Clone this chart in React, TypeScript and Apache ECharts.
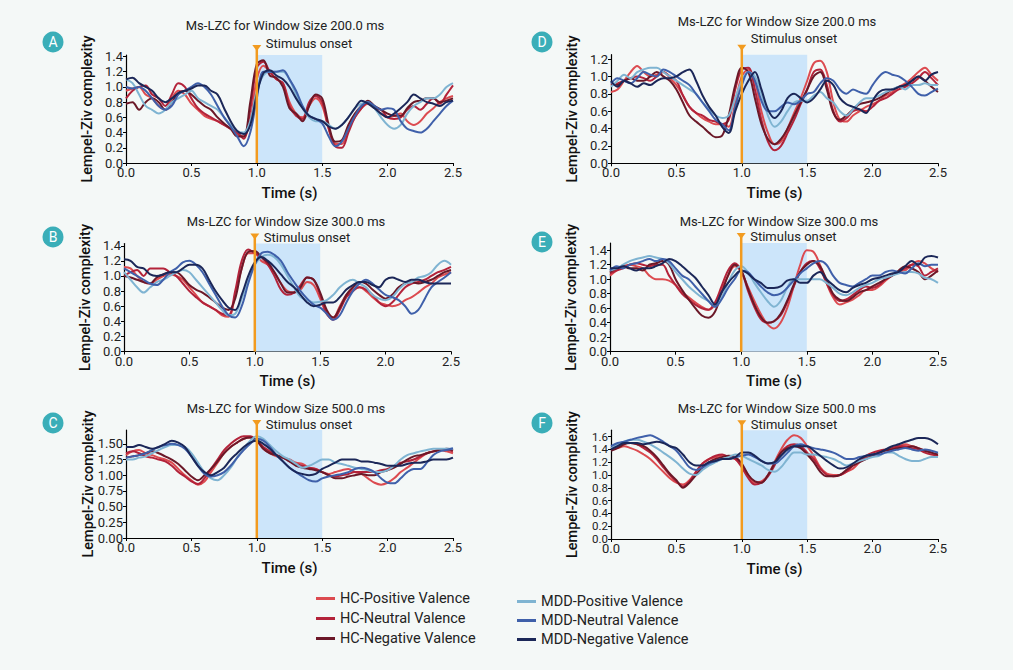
import React, { useEffect, useRef } from "react";
import * as echarts from "echarts";

// time axis, 50 ms steps from 0 to 2.5 s
const TIME = Array.from({ length: 51 }, (_, i) => Math.round(i * 5) / 100);
const X_TICKS = [0, 0.5, 1.0, 1.5, 2.0, 2.5];
const Y_TICKS_14 = [0, 0.2, 0.4, 0.6, 0.8, 1.0, 1.2, 1.4];
const Y_TICKS_12 = [0, 0.2, 0.4, 0.6, 0.8, 1.0, 1.2];
const Y_TICKS_16 = [0, 0.2, 0.4, 0.6, 0.8, 1.0, 1.2, 1.4, 1.6];
const Y_TICKS_150 = [0, 0.25, 0.5, 0.75, 1.0, 1.25, 1.5];

const STIMULUS_ONSET = 1.0;
const WINDOW_END = 1.5;

const SERIES_NAMES = [
  "HC-Positive Valence",
  "HC-Neutral Valence",
  "HC-Negative Valence",
  "MDD-Positive Valence",
  "MDD-Neutral Valence",
  "MDD-Negative Valence",
];
const COLORS = ["#dc4b50", "#b3233a", "#6b1828", "#7fb4d2", "#3f60aa", "#1b2758"];

const TITLES = [
  "Ms-LZC for Window Size 200.0 ms",
  "Ms-LZC for Window Size 300.0 ms",
  "Ms-LZC for Window Size 500.0 ms",
  "Ms-LZC for Window Size 200.0 ms",
  "Ms-LZC for Window Size 300.0 ms",
  "Ms-LZC for Window Size 500.0 ms",
];
const LETTERS = ["A", "B", "C", "D", "E", "F"];

// ---- panel A (200 ms, left)
const A_HC_POS = [
  0.95, 0.98, 1.0, 0.9, 0.85, 0.75, 0.7, 0.85, 0.95, 0.9,
  0.78, 0.7, 0.62, 0.58, 0.55, 0.5, 0.45, 0.38, 0.35, 0.55,
  1.1, 1.28, 1.2, 1.1, 1.05, 0.8, 0.65, 0.6, 0.75, 0.85,
  0.75, 0.45, 0.25, 0.25, 0.45, 0.6, 0.72, 0.78, 0.72, 0.65,
  0.6, 0.62, 0.65, 0.55, 0.5, 0.55, 0.65, 0.72, 0.8, 0.85,
  0.88,
];
const A_HC_NEU = [
  0.85, 0.95, 1.0, 1.02, 0.9, 0.85, 0.75, 0.9, 1.05, 1.0,
  0.85, 0.72, 0.65, 0.6, 0.55, 0.5, 0.45, 0.4, 0.32, 0.7,
  1.25, 1.33, 1.2, 1.1, 1.05, 0.75, 0.62, 0.58, 0.8, 0.88,
  0.8, 0.45, 0.22, 0.2, 0.4, 0.6, 0.72, 0.8, 0.72, 0.7,
  0.6, 0.58, 0.6, 0.7, 0.75, 0.7, 0.78, 0.85, 0.78, 0.9,
  1.02,
];
const A_HC_NEG = [
  0.78, 0.8, 0.7, 0.8, 0.85, 0.8, 0.7, 0.8, 0.92, 0.95,
  0.9, 0.82, 0.75, 0.7, 0.6, 0.52, 0.45, 0.35, 0.35, 0.8,
  1.3, 1.35, 1.15, 1.12, 1.0, 0.72, 0.65, 0.55, 0.75, 0.9,
  0.85, 0.5, 0.28, 0.3, 0.5, 0.65, 0.75, 0.82, 0.75, 0.7,
  0.65, 0.62, 0.62, 0.72, 0.8, 0.82, 0.85, 0.85, 0.8, 0.82,
  0.85,
];
const A_MDD_POS = [
  1.1, 1.05, 0.9, 0.75, 0.7, 0.65, 0.7, 0.8, 0.85, 0.9,
  0.95, 0.85, 0.8, 0.75, 0.7, 0.6, 0.5, 0.42, 0.4, 0.55,
  0.95, 1.15, 1.2, 1.2, 1.2, 1.1, 0.9, 0.72, 0.6, 0.55,
  0.55, 0.5, 0.45, 0.5, 0.6, 0.72, 0.78, 0.8, 0.72, 0.6,
  0.5, 0.45, 0.5, 0.65, 0.75, 0.8, 0.85, 0.85, 0.9, 1.0,
  1.05,
];
const A_MDD_NEU = [
  1.0, 0.98, 1.0, 0.95, 0.85, 0.75, 0.7, 0.75, 0.9, 0.95,
  1.0, 1.05, 1.0, 0.9, 0.75, 0.6, 0.48, 0.35, 0.22, 0.4,
  0.85, 1.2, 1.2, 1.2, 1.22, 1.1, 0.95, 0.75, 0.62, 0.58,
  0.52, 0.35, 0.22, 0.28, 0.45, 0.62, 0.75, 0.8, 0.75, 0.7,
  0.72, 0.7, 0.55, 0.45, 0.42, 0.4, 0.45, 0.55, 0.65, 0.75,
  0.82,
];
const A_MDD_NEG = [
  1.1, 1.12, 1.05, 1.0, 0.95, 0.85, 0.8, 0.85, 0.92, 0.95,
  0.98, 1.02, 1.02, 0.95, 0.9, 0.72, 0.55, 0.42, 0.38, 0.5,
  0.9, 1.18, 1.22, 1.15, 1.1, 1.0, 0.85, 0.72, 0.62, 0.58,
  0.55, 0.48, 0.45, 0.5, 0.6, 0.72, 0.82, 0.78, 0.72, 0.65,
  0.6, 0.65, 0.72, 0.8, 0.9, 0.85, 0.8, 0.78, 0.75, 0.8,
  0.82,
];

// ---- panel B (300 ms, left)
const B_HC_POS = [
  1.12, 1.1, 1.0, 0.92, 0.9, 0.95, 1.0, 1.02, 1.0, 0.95,
  0.85, 0.75, 0.65, 0.6, 0.55, 0.48, 0.46, 0.75, 1.1, 1.3,
  1.3, 1.2, 1.15, 1.05, 0.9, 0.8, 0.78, 0.82, 0.92, 0.88,
  0.7, 0.5, 0.45, 0.6, 0.75, 0.82, 0.85, 0.8, 0.72, 0.65,
  0.62, 0.6, 0.62, 0.68, 0.72, 0.78, 0.85, 0.9, 0.98, 1.02,
  1.05,
];
const B_HC_NEU = [
  1.0, 1.05, 1.08, 1.0, 1.1, 1.1, 1.1, 1.05, 1.0, 0.9,
  0.8, 0.72, 0.65, 0.6, 0.55, 0.5, 0.48, 0.8, 1.2, 1.35,
  1.3, 1.25, 1.15, 1.0, 0.82, 0.75, 0.78, 0.88, 0.98, 0.95,
  0.75, 0.5, 0.42, 0.55, 0.72, 0.8, 0.85, 0.82, 0.75, 0.65,
  0.6, 0.65, 0.75, 0.85, 0.9, 0.92, 0.95, 1.0, 1.05, 1.08,
  1.12,
];
const B_HC_NEG = [
  1.0, 0.98, 0.95, 0.92, 0.9, 0.98, 1.02, 1.05, 1.05, 0.98,
  0.88, 0.82, 0.78, 0.72, 0.65, 0.58, 0.55, 0.7, 1.1, 1.32,
  1.33, 1.25, 1.18, 1.05, 0.9, 0.78, 0.78, 0.85, 0.98, 0.95,
  0.78, 0.55, 0.45, 0.58, 0.75, 0.85, 0.92, 0.9, 0.82, 0.75,
  0.7, 0.75, 0.85, 0.9, 0.92, 0.9, 0.92, 0.95, 1.0, 1.05,
  1.08,
];
const B_MDD_POS = [
  1.05, 0.95, 0.85, 0.78, 0.85, 0.92, 0.95, 1.0, 1.05, 1.08,
  1.05, 0.95, 0.85, 0.75, 0.65, 0.55, 0.48, 0.5, 0.7, 0.95,
  1.15, 1.25, 1.28, 1.25, 1.15, 1.0, 0.85, 0.72, 0.68, 0.65,
  0.66, 0.68, 0.75, 0.85, 0.92, 0.95, 0.9, 0.85, 0.75, 0.7,
  0.68, 0.72, 0.82, 0.9, 0.92, 0.98, 1.0, 1.05, 1.15, 1.2,
  1.15,
];
const B_MDD_NEU = [
  1.1, 1.05, 1.0, 0.95, 0.9, 0.88, 0.95, 1.05, 1.1, 1.18,
  1.2, 1.15, 1.05, 0.9, 0.75, 0.6, 0.48, 0.45, 0.6, 0.9,
  1.15, 1.3, 1.32, 1.28, 1.2, 1.05, 0.92, 0.8, 0.7, 0.62,
  0.58, 0.5, 0.42, 0.48, 0.65, 0.8, 0.9, 0.95, 0.9, 0.82,
  0.75, 0.72, 0.68, 0.6, 0.5, 0.55, 0.7, 0.85, 0.92, 0.98,
  1.05,
];
const B_MDD_NEG = [
  1.22, 1.2, 1.12, 1.1, 1.02, 1.0, 1.02, 1.05, 1.05, 1.1,
  1.15, 1.15, 1.1, 0.95, 0.8, 0.68, 0.58, 0.55, 0.75, 1.0,
  1.18, 1.25, 1.2, 1.12, 1.02, 0.92, 0.85, 0.75, 0.65, 0.6,
  0.62, 0.65, 0.65, 0.72, 0.82, 0.88, 0.92, 0.92, 0.88, 0.85,
  0.95, 0.98, 0.95, 0.92, 0.95, 0.95, 0.92, 0.9, 0.9, 0.9,
  0.9,
];

// ---- panel C (500 ms, left)
const C_HC_POS = [
  1.32, 1.38, 1.4, 1.35, 1.32, 1.28, 1.25, 1.2, 1.1, 1.0,
  0.92, 0.85, 0.9, 1.05, 1.2, 1.35, 1.45, 1.52, 1.58, 1.6,
  1.55, 1.42, 1.35, 1.3, 1.28, 1.25, 1.2, 1.18, 1.12, 1.1,
  1.05, 1.02, 1.05, 1.08, 1.1, 1.05, 1.02, 0.95, 0.88, 0.85,
  0.88, 0.95, 1.05, 1.12, 1.2, 1.28, 1.35, 1.38, 1.4, 1.38,
  1.35,
];
const C_HC_NEU = [
  1.35, 1.38, 1.35, 1.3, 1.28, 1.25, 1.22, 1.15, 1.05, 0.98,
  0.9, 0.86, 0.95, 1.1, 1.25, 1.4, 1.5, 1.58, 1.62, 1.62,
  1.55, 1.45, 1.38, 1.32, 1.28, 1.22, 1.18, 1.15, 1.12, 1.1,
  1.05, 1.0, 0.98, 1.0, 1.02, 1.05, 1.05, 1.05, 1.05, 1.08,
  1.1, 1.15, 1.2, 1.22, 1.25, 1.3, 1.35, 1.38, 1.4, 1.4,
  1.38,
];
const C_HC_NEG = [
  1.28, 1.3, 1.32, 1.35, 1.38, 1.35, 1.3, 1.25, 1.18, 1.08,
  0.98, 0.92, 1.0, 1.1, 1.22, 1.35, 1.45, 1.52, 1.58, 1.6,
  1.55, 1.42, 1.35, 1.32, 1.28, 1.22, 1.15, 1.12, 1.1, 1.08,
  1.05, 1.0, 0.95, 0.95, 0.98, 1.0, 1.02, 1.0, 1.0, 1.05,
  1.08, 1.12, 1.18, 1.25, 1.3, 1.32, 1.35, 1.38, 1.4, 1.42,
  1.4,
];
const C_MDD_POS = [
  1.25, 1.25, 1.28, 1.3, 1.35, 1.4, 1.45, 1.48, 1.48, 1.45,
  1.35, 1.2, 1.05, 0.95, 0.92, 1.0, 1.12, 1.28, 1.42, 1.55,
  1.62, 1.58, 1.48, 1.38, 1.3, 1.25, 1.18, 1.12, 1.15, 1.2,
  1.25, 1.25, 1.2, 1.18, 1.15, 1.12, 1.1, 1.08, 1.05, 1.05,
  1.08, 1.15, 1.25, 1.32, 1.35, 1.38, 1.4, 1.42, 1.42, 1.42,
  1.42,
];
const C_MDD_NEU = [
  1.28, 1.3, 1.32, 1.35, 1.4, 1.45, 1.48, 1.5, 1.48, 1.42,
  1.3, 1.15, 1.02, 0.98, 1.0, 1.05, 1.15, 1.28, 1.4, 1.5,
  1.58, 1.55, 1.45, 1.32, 1.22, 1.12, 1.05, 0.98, 0.92, 0.9,
  0.95, 0.98, 1.0, 1.02, 1.05, 1.1, 1.12, 1.1, 1.05, 0.95,
  0.88, 0.87, 0.95, 1.05, 1.1, 1.1, 1.2, 1.32, 1.38, 1.4,
  1.43,
];
const C_MDD_NEG = [
  1.45, 1.45, 1.48, 1.45, 1.42, 1.45, 1.5, 1.55, 1.52, 1.45,
  1.3, 1.15, 1.05, 1.0, 1.05, 1.12, 1.25, 1.35, 1.45, 1.52,
  1.55, 1.5, 1.42, 1.32, 1.22, 1.12, 1.05, 1.02, 1.0, 1.02,
  1.1, 1.15, 1.2, 1.25, 1.25, 1.25, 1.22, 1.22, 1.2, 1.18,
  1.15, 1.15, 1.15, 1.18, 1.2, 1.2, 1.22, 1.25, 1.25, 1.25,
  1.28,
];

// ---- panel D (200 ms, right)
const D_HC_POS = [
  0.82, 0.85, 0.95, 1.05, 1.12, 1.05, 1.0, 1.02, 1.05, 0.98,
  0.9, 0.78, 0.65, 0.58, 0.52, 0.48, 0.45, 0.45, 0.42, 0.7,
  1.0, 1.08, 0.95, 0.6, 0.35, 0.22, 0.25, 0.4, 0.58, 0.75,
  0.95, 1.15, 1.18, 1.05, 0.7, 0.5, 0.48, 0.55, 0.6, 0.65,
  0.68, 0.72, 0.78, 0.82, 0.88, 0.92, 0.98, 1.05, 1.1, 1.02,
  0.95,
];
const D_HC_NEU = [
  0.9, 0.92, 0.95, 0.98, 1.0, 0.98, 0.95, 1.0, 1.05, 1.0,
  0.95, 0.78, 0.65, 0.58, 0.55, 0.5, 0.48, 0.45, 0.5, 0.85,
  1.08, 1.1, 0.85, 0.5, 0.25, 0.15, 0.2, 0.35, 0.5, 0.68,
  0.85, 1.05, 1.08, 0.9, 0.6, 0.48, 0.52, 0.6, 0.62, 0.6,
  0.65, 0.72, 0.75, 0.8, 0.85, 0.88, 0.92, 0.98, 1.05, 0.98,
  0.9,
];
const D_HC_NEG = [
  0.92, 0.9, 0.95, 0.98, 0.95, 0.95, 1.0, 1.05, 1.0, 0.95,
  0.85, 0.7, 0.55, 0.48, 0.42, 0.35, 0.3, 0.32, 0.55, 0.9,
  1.1, 1.05, 0.75, 0.45, 0.28, 0.22, 0.28, 0.4, 0.55, 0.7,
  0.85, 1.0, 1.05, 0.85, 0.58, 0.5, 0.55, 0.62, 0.68, 0.7,
  0.72, 0.75, 0.8, 0.85, 0.88, 0.9, 0.95, 1.0, 0.95, 0.88,
  0.82,
];
const D_MDD_POS = [
  0.88, 0.95, 1.02, 0.98, 1.05, 1.08, 1.1, 1.1, 1.05, 1.0,
  0.95, 0.9, 0.85, 0.8, 0.7, 0.62, 0.55, 0.52, 0.55, 0.75,
  0.95, 1.05, 1.0, 0.8, 0.55, 0.42, 0.48, 0.6, 0.7, 0.72,
  0.72, 0.78, 0.82, 0.75, 0.7, 0.6, 0.55, 0.62, 0.7, 0.75,
  0.75, 0.78, 0.82, 0.85, 0.88, 0.85, 0.9, 0.9, 0.92, 0.9,
  0.9,
];
const D_MDD_NEU = [
  0.92, 0.98, 0.95, 0.92, 0.98, 1.05, 1.02, 1.0, 1.08, 1.05,
  1.0, 0.95, 0.9, 0.8, 0.7, 0.6, 0.5, 0.45, 0.38, 0.65,
  0.9, 1.05, 0.95, 0.72, 0.6, 0.6, 0.65, 0.7, 0.68, 0.72,
  0.8, 0.82, 0.92, 0.98, 0.95, 0.85, 0.8, 0.85, 0.82, 0.8,
  0.9, 1.0, 1.05, 1.02, 1.0, 0.95, 0.88, 0.8, 0.78, 0.82,
  0.86,
];
const D_MDD_NEG = [
  0.95, 0.88, 0.95, 0.92, 0.88, 0.92, 0.9, 0.95, 0.98, 0.98,
  1.0, 1.05, 1.08, 0.95, 0.78, 0.65, 0.55, 0.42, 0.35, 0.6,
  0.8, 0.95, 1.05, 0.85, 0.62, 0.52, 0.6, 0.75, 0.8, 0.75,
  0.7, 0.75, 0.85, 0.95, 0.9, 0.75, 0.68, 0.65, 0.62, 0.58,
  0.72, 0.82, 0.85, 0.85, 0.88, 0.9, 0.95, 1.0, 0.95, 1.02,
  1.05,
];

// ---- panel E (300 ms, right)
const E_HC_POS = [
  1.05, 1.12, 1.18, 1.2, 1.18, 1.15, 1.05, 1.0, 1.0, 0.98,
  0.92, 0.82, 0.75, 0.68, 0.62, 0.58, 0.65, 0.85, 1.05, 1.18,
  1.1, 0.9, 0.7, 0.52, 0.38, 0.32, 0.4, 0.6, 0.9, 1.2,
  1.4, 1.38, 1.2, 0.95, 0.75, 0.65, 0.68, 0.72, 0.78, 0.85,
  0.85, 0.9, 0.98, 1.05, 1.1, 1.12, 1.2, 1.25, 1.22, 1.15,
  1.1,
];
const E_HC_NEU = [
  1.08, 1.12, 1.15, 1.2, 1.22, 1.2, 1.18, 1.2, 1.2, 1.05,
  0.92, 0.8, 0.72, 0.65, 0.6, 0.58, 0.68, 0.9, 1.12, 1.22,
  1.12, 0.85, 0.62, 0.45, 0.4, 0.42, 0.5, 0.68, 0.9, 1.1,
  1.22, 1.25, 1.15, 0.95, 0.78, 0.7, 0.72, 0.78, 0.85, 0.9,
  0.88, 0.92, 1.0, 1.05, 1.1, 1.15, 1.2, 1.18, 1.05, 1.1,
  1.15,
];
const E_HC_NEG = [
  1.1, 1.15, 1.18, 1.15, 1.15, 1.12, 1.2, 1.22, 1.25, 1.2,
  1.0, 0.85, 0.72, 0.6, 0.5, 0.47, 0.55, 0.8, 1.05, 1.2,
  1.12, 0.88, 0.65, 0.48, 0.4, 0.42, 0.52, 0.7, 0.92, 1.1,
  1.2, 1.25, 1.18, 1.0, 0.8, 0.72, 0.7, 0.75, 0.82, 0.85,
  0.9, 0.95, 1.0, 1.05, 1.12, 1.18, 1.15, 1.1, 1.0, 1.05,
  1.12,
];
const E_MDD_POS = [
  1.12, 1.15, 1.2, 1.25, 1.28, 1.3, 1.32, 1.3, 1.28, 1.22,
  1.1, 1.0, 0.9, 0.82, 0.75, 0.7, 0.62, 0.75, 0.95, 1.12,
  1.18, 1.1, 0.95, 0.82, 0.7, 0.62, 0.7, 0.88, 1.0, 1.0,
  1.0, 1.0, 1.0, 0.95, 0.88, 0.8, 0.78, 0.82, 0.88, 0.92,
  0.95, 1.0, 1.02, 1.05, 1.08, 1.1, 1.1, 1.08, 1.02, 1.0,
  0.95,
];
const E_MDD_NEU = [
  1.12, 1.18, 1.15, 1.2, 1.22, 1.25, 1.28, 1.25, 1.28, 1.25,
  1.15, 1.05, 1.0, 0.9, 0.8, 0.7, 0.62, 0.72, 0.88, 1.0,
  1.12, 1.1, 1.0, 0.9, 0.82, 0.78, 0.8, 0.88, 0.98, 1.08,
  1.15, 1.22, 1.25, 1.2, 1.05, 0.95, 0.92, 0.9, 0.95, 1.0,
  1.05, 1.05, 1.1, 1.12, 1.1, 1.08, 1.15, 1.22, 1.18, 1.2,
  1.2,
];
const E_MDD_NEG = [
  1.15, 1.15, 1.18, 1.15, 1.12, 1.15, 1.15, 1.18, 1.22, 1.28,
  1.25, 1.18, 1.1, 1.02, 0.9, 0.78, 0.65, 0.82, 0.95, 1.05,
  1.12, 1.08, 1.0, 0.95, 0.88, 0.88, 0.9, 0.98, 1.0, 0.95,
  0.95, 1.05, 1.1, 1.0, 0.92, 0.85, 0.82, 0.88, 0.92, 0.95,
  1.0, 1.02, 1.05, 1.08, 1.1, 1.18, 1.25, 1.2, 1.3, 1.32,
  1.3,
];

// ---- panel F (500 ms, right)
const F_HC_POS = [
  1.4, 1.42, 1.45, 1.42, 1.38, 1.32, 1.25, 1.15, 1.05, 0.95,
  0.88, 0.85, 0.92, 1.05, 1.18, 1.25, 1.28, 1.3, 1.28, 1.25,
  1.15, 1.0, 0.88, 0.9, 1.0, 1.2, 1.4, 1.55, 1.62, 1.58,
  1.45, 1.3, 1.12, 1.02, 1.0, 1.0, 1.05, 1.1, 1.2, 1.28,
  1.32, 1.35, 1.38, 1.42, 1.45, 1.48, 1.45, 1.42, 1.38, 1.35,
  1.3,
];
const F_HC_NEU = [
  1.42, 1.45, 1.5, 1.5, 1.48, 1.42, 1.35, 1.25, 1.12, 1.0,
  0.9, 0.82, 0.9, 1.05, 1.18, 1.25, 1.3, 1.32, 1.28, 1.25,
  1.12, 0.95, 0.85, 0.88, 0.98, 1.15, 1.35, 1.45, 1.48, 1.45,
  1.35, 1.25, 1.1, 1.0, 0.98, 1.0, 1.05, 1.15, 1.22, 1.3,
  1.35, 1.38, 1.4, 1.42, 1.45, 1.45, 1.42, 1.4, 1.35, 1.32,
  1.3,
];
const F_HC_NEG = [
  1.38, 1.42, 1.48, 1.5, 1.48, 1.45, 1.38, 1.28, 1.15, 1.02,
  0.92, 0.8, 0.88, 1.0, 1.12, 1.2, 1.25, 1.28, 1.3, 1.28,
  1.18, 1.0, 0.9, 0.88, 1.0, 1.18, 1.35, 1.42, 1.45, 1.42,
  1.32, 1.2, 1.05, 0.98, 0.98, 1.0, 1.08, 1.15, 1.2, 1.25,
  1.3, 1.35, 1.38, 1.4, 1.42, 1.42, 1.45, 1.42, 1.38, 1.35,
  1.32,
];
const F_MDD_POS = [
  1.42, 1.48, 1.52, 1.55, 1.55, 1.52, 1.48, 1.42, 1.35, 1.28,
  1.2, 1.1, 1.02, 1.0, 1.08, 1.15, 1.2, 1.25, 1.28, 1.32,
  1.3, 1.25, 1.2, 1.15, 1.08, 1.05, 1.12, 1.25, 1.35, 1.35,
  1.32, 1.32, 1.3, 1.28, 1.25, 1.2, 1.15, 1.18, 1.22, 1.25,
  1.28, 1.3, 1.35, 1.35, 1.3, 1.25, 1.22, 1.22, 1.25, 1.28,
  1.28,
];
const F_MDD_NEU = [
  1.45, 1.5, 1.52, 1.55, 1.58, 1.6, 1.62, 1.58, 1.52, 1.45,
  1.38, 1.25, 1.12, 1.08, 1.12, 1.18, 1.22, 1.25, 1.25, 1.28,
  1.3, 1.32, 1.28, 1.22, 1.18, 1.18, 1.25, 1.35, 1.45, 1.48,
  1.45, 1.42, 1.4, 1.38, 1.35, 1.3, 1.25, 1.25, 1.28, 1.3,
  1.32, 1.32, 1.35, 1.38, 1.4, 1.42, 1.4, 1.38, 1.4, 1.38,
  1.35,
];
const F_MDD_NEG = [
  1.4, 1.45, 1.5, 1.5, 1.5, 1.48, 1.5, 1.52, 1.5, 1.45,
  1.42, 1.32, 1.2, 1.15, 1.15, 1.2, 1.22, 1.25, 1.25, 1.28,
  1.35, 1.35, 1.3, 1.22, 1.18, 1.2, 1.3, 1.4, 1.45, 1.45,
  1.45, 1.38, 1.3, 1.22, 1.15, 1.1, 1.12, 1.18, 1.25, 1.3,
  1.32, 1.35, 1.4, 1.45, 1.48, 1.52, 1.55, 1.58, 1.58, 1.55,
  1.48,
];

const PANEL_SERIES = [
  [A_HC_POS, A_HC_NEU, A_HC_NEG, A_MDD_POS, A_MDD_NEU, A_MDD_NEG],
  [B_HC_POS, B_HC_NEU, B_HC_NEG, B_MDD_POS, B_MDD_NEU, B_MDD_NEG],
  [C_HC_POS, C_HC_NEU, C_HC_NEG, C_MDD_POS, C_MDD_NEU, C_MDD_NEG],
  [D_HC_POS, D_HC_NEU, D_HC_NEG, D_MDD_POS, D_MDD_NEU, D_MDD_NEG],
  [E_HC_POS, E_HC_NEU, E_HC_NEG, E_MDD_POS, E_MDD_NEU, E_MDD_NEG],
  [F_HC_POS, F_HC_NEU, F_HC_NEG, F_MDD_POS, F_MDD_NEU, F_MDD_NEG],
];
const Y_MAX = [1.42, 1.43, 1.72, 1.25, 1.5, 1.7];
const Y_TICKS = [Y_TICKS_14, Y_TICKS_14, Y_TICKS_150, Y_TICKS_12, Y_TICKS_14, Y_TICKS_16];
const Y_DIGITS = [1, 1, 2, 1, 1, 1];

// layout (pixels)
const LAYOUT = [
  { left: 126, top: 55, width: 327, height: 108, titleX: 280, titleY: 14, cx: 53, cy: 42, textDy: -12, yFont: 13 },
  { left: 124, top: 243.5, width: 327, height: 108, titleX: 281, titleY: 210, cx: 53, cy: 237, textDy: -6.5, yFont: 13 },
  { left: 126, top: 430, width: 327, height: 108, titleX: 281, titleY: 397, cx: 53, cy: 423, textDy: -6, yFont: 13 },
  { left: 611, top: 54.7, width: 327, height: 108.6, titleX: 772, titleY: 10, cx: 542, cy: 42, textDy: -16, yFont: 13 },
  { left: 610, top: 243, width: 328, height: 108.7, titleX: 774, titleY: 210, cx: 542, cy: 242, textDy: -6.5, yFont: 13 },
  { left: 611, top: 430.2, width: 327, height: 108.8, titleX: 772, titleY: 397, cx: 542, cy: 423, textDy: -6, yFont: 11.5 },
];

const BG = "#f4f8f7";
const ORANGE = "#f29b1f";
const SHADE = "#cce5fa";
const TEAL = "#3aaeb8";
const INK = "#222";

function buildOption(): echarts.EChartsOption {
  const grid: any[] = [];
  const xAxis: any[] = [];
  const yAxis: any[] = [];
  const series: any[] = [];
  const title: any[] = [];
  const graphic: any[] = [];

  PANEL_SERIES.forEach((lines, p) => {
    const L = LAYOUT[p];
    const yMax = Y_MAX[p];
    grid.push({ left: L.left, top: L.top, width: L.width, height: L.height });
    xAxis.push({
      type: "value",
      gridIndex: p,
      min: 0,
      max: 2.5,
      interval: 0.5,
      name: "Time (s)",
      nameLocation: "middle",
      nameGap: 22,
      nameTextStyle: { fontSize: 15, fontWeight: 500, color: "#111" },
      axisLine: { lineStyle: { color: "#000", width: 1.2 } },
      axisTick: { length: 3, lineStyle: { color: "#000" }, customValues: X_TICKS },
      axisLabel: {
        fontSize: 13,
        color: INK,
        margin: 3,
        showMinLabel: true,
        showMaxLabel: true,
        customValues: X_TICKS,
        formatter: (v: number) => v.toFixed(1),
      },
      splitLine: { show: false },
    });
    yAxis.push({
      type: "value",
      gridIndex: p,
      min: 0,
      max: yMax,
      name: "Lempel-Ziv complexity",
      nameLocation: "middle",
      nameRotate: 90,
      nameGap: p === 2 ? 30 : 31,
      nameTextStyle: { fontSize: 14.5, fontWeight: 500, color: "#111" },
      axisLine: { show: true, lineStyle: { color: "#000", width: 1.2 } },
      axisTick: { show: true, length: 3, lineStyle: { color: "#000" }, customValues: Y_TICKS[p] },
      axisLabel: {
        fontSize: L.yFont,
        lineHeight: 10,
        color: INK,
        margin: 3,
        textMargin: 0,
        showMinLabel: true,
        showMaxLabel: true,
        hideOverlap: false,
        customValues: Y_TICKS[p],
        formatter: (v: number) => v.toFixed(Y_DIGITS[p]),
      },
      splitLine: { show: false },
    });

    // response window shading
    series.push({
      type: "line",
      name: "window",
      xAxisIndex: p,
      yAxisIndex: p,
      data: [],
      z: 1,
      silent: true,
      markArea: {
        silent: true,
        itemStyle: { color: SHADE },
        data: [[{ xAxis: STIMULUS_ONSET }, { xAxis: WINDOW_END }]],
      },
    });

    lines.forEach((vals, s) => {
      series.push({
        type: "line",
        name: SERIES_NAMES[s],
        xAxisIndex: p,
        yAxisIndex: p,
        data: vals.map((v, i) => [TIME[i], v]),
        showSymbol: false,
        smooth: 0.35,
        z: 2,
        lineStyle: { color: COLORS[s], width: 2 },
        itemStyle: { color: COLORS[s] },
      });
    });

    // stimulus onset marker
    series.push({
      type: "custom",
      name: "onset",
      xAxisIndex: p,
      yAxisIndex: p,
      data: [[STIMULUS_ONSET]],
      clip: false,
      silent: true,
      z: 5,
      renderItem: (_params: any, api: any) => {
        const b = api.coord([api.value(0), 0]);
        const t = api.coord([api.value(0), yMax]);
        const x = b[0];
        const tip = t[1] - 4;
        return {
          type: "group",
          children: [
            {
              type: "line",
              shape: { x1: x, y1: b[1], x2: x, y2: tip - 3 },
              style: { stroke: ORANGE, lineWidth: 2.5 },
            },
            {
              type: "polygon",
              shape: { points: [[x - 4.5, tip - 6], [x + 4.5, tip - 6], [x, tip]] },
              style: { fill: ORANGE },
            },
            {
              type: "text",
              style: {
                text: "Stimulus onset",
                x: x + 9,
                y: t[1] + L.textDy,
                fill: INK,
                fontSize: 13,
                lineHeight: 12,
                fontFamily: "Roboto",
                verticalAlign: "middle",
              },
            },
          ],
        };
      },
    });

    title.push({
      text: TITLES[p],
      left: L.titleX,
      top: L.titleY,
      textAlign: "center",
      textStyle: { fontSize: 13, lineHeight: 12, fontWeight: "normal", color: INK, fontFamily: "Roboto" },
    });

    graphic.push({
      type: "group",
      left: L.cx - 10.5,
      top: L.cy - 10.5,
      children: [
        { type: "circle", shape: { cx: 10.5, cy: 10.5, r: 10.5 }, style: { fill: TEAL } },
        {
          type: "text",
          x: 10.5,
          y: 10.5,
          style: {
            text: LETTERS[p],
            fill: "#fff",
            fontSize: 14,
            fontFamily: "Roboto",
            align: "center",
            verticalAlign: "middle",
          },
        },
      ],
    });
  });

  const legendBase = {
    orient: "vertical",
    icon: "rect",
    itemWidth: 19,
    itemHeight: 3,
    textStyle: { fontSize: 14.5, color: INK, lineHeight: 17 },
  };

  return {
    animation: false,
    backgroundColor: BG,
    textStyle: { fontFamily: "Roboto" },
    title,
    grid,
    xAxis,
    yAxis,
    series,
    graphic,
    legend: [
      { ...legendBase, itemGap: 3, data: SERIES_NAMES.slice(0, 3), left: 311, top: 585 },
      { ...legendBase, itemGap: 2, data: SERIES_NAMES.slice(3), left: 512, top: 588 },
    ],
  } as echarts.EChartsOption;
}

function LzcFigure() {
  const chartRef = useRef<HTMLDivElement>(null);

  useEffect(() => {
    const myChart = echarts.init(chartRef.current!, null, { renderer: "svg" });
    myChart.setOption(buildOption());
    return () => {
      myChart.dispose();
    };
  }, []);

  return (
    <div
      ref={chartRef}
      style={{ position: "fixed", left: 0, top: 0, width: 1013, height: 670, background: BG }}
    />
  );
}

export default function App() {
  return <LzcFigure />;
}
